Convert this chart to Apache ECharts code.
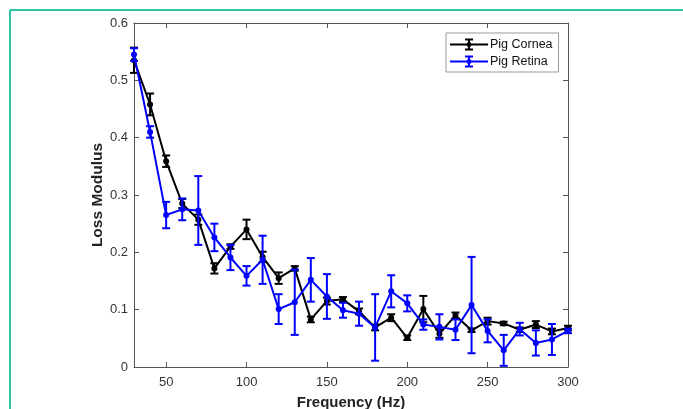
<!DOCTYPE html>
<html>
<head>
<meta charset="utf-8">
<script src="https://cdn.jsdelivr.net/npm/echarts@6/dist/echarts.min.js"></script>
<style>
html,body{margin:0;padding:0;background:#fff;}
#chart{width:683px;height:409px;}
</style>
</head>
<body>
<div id="chart"></div>
<script>
const freq = [30,40,50,60,70,80,90,100,110,120,130,140,150,160,170,180,190,200,210,220,230,240,250,260,270,280,290,300];
const corneaMean = [0.535,0.458,0.359,0.285,0.257,0.172,0.210,0.240,0.192,0.155,0.172,0.083,0.115,0.118,0.097,0.069,0.086,0.051,0.101,0.058,0.090,0.064,0.080,0.076,0.065,0.074,0.062,0.068];
const corneaErr = [0.022,0.019,0.010,0.008,0.009,0.009,0.004,0.017,0.009,0.010,0.004,0.005,0.006,0.004,0.005,0.005,0.006,0.004,0.023,0.007,0.005,0.003,0.006,0.003,0.004,0.006,0.005,0.004];
const retinaMean = [0.545,0.410,0.265,0.275,0.273,0.226,0.191,0.159,0.187,0.101,0.113,0.152,0.123,0.099,0.093,0.069,0.132,0.111,0.074,0.070,0.065,0.108,0.063,0.029,0.066,0.042,0.048,0.063];
const retinaErr = [0.011,0.010,0.023,0.019,0.060,0.024,0.022,0.017,0.042,0.026,0.057,0.038,0.039,0.013,0.021,0.058,0.028,0.014,0.009,0.022,0.018,0.084,0.020,0.027,0.011,0.022,0.027,0.004];
const xTicks = [50,100,150,200,250,300];
const seriesNames = ['Pig Cornea','Pig Retina'];

const FONT = 'Liberation Sans, Arial, sans-serif';
const AX = '#555';

function errData(mean, err){ return freq.map((f,i)=>[f, mean[i]-err[i], mean[i]+err[i]]); }
function lineData(mean){ return freq.map((f,i)=>[f, mean[i]]); }

function errRender(color){
  return function(params, api){
    const x = api.value(0);
    const lo = api.coord([x, api.value(1)]);
    const hi = api.coord([x, api.value(2)]);
    const w = 4;
    const st = {stroke: color, lineWidth: 2};
    return {type:'group', children:[
      {type:'line', shape:{x1:lo[0],y1:lo[1],x2:hi[0],y2:hi[1]}, style:st},
      {type:'line', shape:{x1:lo[0]-w,y1:lo[1],x2:lo[0]+w,y2:lo[1]}, style:st},
      {type:'line', shape:{x1:hi[0]-w,y1:hi[1],x2:hi[0]+w,y2:hi[1]}, style:st}
    ]};
  };
}

const iconPath = 'path://M0 5H38V7H0Z M18 1H20V11H18Z M15 0H23V2H15Z M15 10H23V12H15Z M16.5 6A2.5 2.5 0 1 1 21.5 6A2.5 2.5 0 1 1 16.5 6Z';

const chart = echarts.init(document.getElementById('chart'), null, {renderer:'canvas'});
chart.setOption({
  animation:false,
  backgroundColor:'#fff',
  textStyle:{fontFamily:FONT},
  grid:{left:134, right:115, top:23, bottom:42, containLabel:false, outerBoundsMode:'none'},
  legend:{
    left:446, top:33, orient:'vertical',
    itemWidth:38, itemHeight:12, itemGap:4,
    padding:[5,6,4,4],
    borderColor:'#999', borderWidth:1, backgroundColor:'#fff',
    textStyle:{fontFamily:FONT, fontSize:12.5, color:'#111', padding:[0,0,0,-3]},
    data:[{name:seriesNames[0], icon:iconPath},{name:seriesNames[1], icon:iconPath}]
  },
  xAxis:[{
    type:'value', min:30, max:300, position:'bottom',
    name:'Frequency (Hz)', nameLocation:'middle', nameGap:28, nameMoveOverlap:false,
    nameTextStyle:{fontFamily:FONT, fontWeight:'bold', fontSize:15, color:'#222'},
    axisLine:{show:true, lineStyle:{color:AX, width:1}},
    axisTick:{show:true, inside:true, length:5, customValues:xTicks, lineStyle:{color:AX}},
    axisLabel:{show:true, customValues:xTicks, fontSize:13, color:'#333', margin:9, fontFamily:FONT},
    splitLine:{show:false}
  },{
    type:'value', min:30, max:300, position:'top',
    axisLine:{show:true, onZero:false, lineStyle:{color:AX, width:1}},
    axisTick:{show:true, inside:true, length:5, customValues:xTicks, lineStyle:{color:AX}},
    axisLabel:{show:false}, splitLine:{show:false}
  }],
  yAxis:[{
    type:'value', min:0, max:0.6, interval:0.1, position:'left',
    name:'Loss Modulus', nameLocation:'middle', nameGap:28, nameRotate:90, nameMoveOverlap:false,
    nameTextStyle:{fontFamily:FONT, fontWeight:'bold', fontSize:15.5, color:'#222'},
    axisLine:{show:true, lineStyle:{color:AX, width:1}},
    axisTick:{show:true, inside:true, length:5, lineStyle:{color:AX}},
    axisLabel:{show:true, fontSize:13, color:'#333', margin:6, fontFamily:FONT,
      formatter:function(v){ return v===0 ? '0' : v.toFixed(1); }},
    splitLine:{show:false}
  },{
    type:'value', min:0, max:0.6, interval:0.1, position:'right',
    axisLine:{show:true, onZero:false, lineStyle:{color:AX, width:1}},
    axisTick:{show:true, inside:true, length:5, lineStyle:{color:AX}},
    axisLabel:{show:false}, splitLine:{show:false}
  }],
  series:[
    {name:seriesNames[0], type:'custom', renderItem:errRender('#000'), itemStyle:{color:'#000'},
     encode:{x:0, y:[1,2]}, data:errData(corneaMean, corneaErr), z:2},
    {name:seriesNames[0]+' line', type:'line', data:lineData(corneaMean),
     lineStyle:{color:'#000', width:2}, itemStyle:{color:'#000'}, symbol:'circle', symbolSize:6, z:3},
    {name:seriesNames[1], type:'custom', renderItem:errRender('#0000ff'), itemStyle:{color:'#0000ff'},
     encode:{x:0, y:[1,2]}, data:errData(retinaMean, retinaErr), z:4},
    {name:seriesNames[1]+' line', type:'line', data:lineData(retinaMean),
     lineStyle:{color:'#0000ff', width:2}, itemStyle:{color:'#0000ff'}, symbol:'circle', symbolSize:6, z:5}
  ],
  graphic:[
    {type:'line', shape:{x1:10, y1:10, x2:10, y2:409}, style:{stroke:'#2ec4a6', lineWidth:2}},
    {type:'line', shape:{x1:10, y1:10, x2:683, y2:10}, style:{stroke:'#2ec4a6', lineWidth:2}}
  ]
});
</script>
</body>
</html>
